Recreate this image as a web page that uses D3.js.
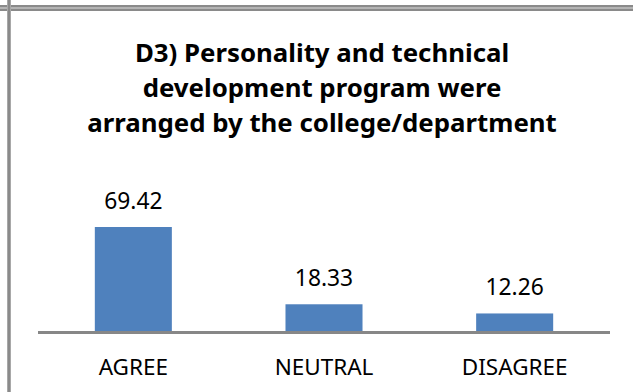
<!DOCTYPE html>
<html>
<head>
<meta charset="utf-8">
<script src="https://cdn.jsdelivr.net/npm/d3@7"></script>
<style>
  html, body { margin: 0; padding: 0; background: #fff; overflow: hidden; }
  svg { display: block; }
</style>
</head>
<body>
<svg id="chart" width="633" height="392"></svg>
<script>
const titleLines = ["D3) Personality and technical", "development program were", "arranged by the college/department"];
const categories = ["AGREE", "NEUTRAL", "DISAGREE"];
const values = [69.42, 18.33, 12.26];
const valueLabels = ["69.42", "18.33", "12.26"];

const svg = d3.select("#chart");
const W = 633, H = 392;
const baseY = 332;

// frame pieces
svg.append("rect").attr("x", 0).attr("y", 5).attr("width", W).attr("height", 6).attr("fill", "#b4b4b4");
svg.append("rect").attr("x", 0).attr("y", 5).attr("width", W).attr("height", 2).attr("fill", "#8a8a8a");
svg.append("rect").attr("x", 0).attr("y", 9).attr("width", W).attr("height", 2).attr("fill", "#8a8a8a");
svg.append("rect").attr("x", 7).attr("y", 0).attr("width", 4).attr("height", H).attr("fill", "#a8a8a8");
svg.append("rect").attr("x", 8).attr("y", 0).attr("width", 2).attr("height", H).attr("fill", "#8a8a8a");

const x = d3.scaleBand().domain(categories).range([38, 610]).paddingInner(0.596).paddingOuter(0.298);
const y = d3.scaleLinear().domain([0, 80]).range([baseY, baseY - 80 * 1.5125]);

const font = "'Noto Sans', 'Open Sans', sans-serif";

const title = svg.append("text").attr("text-anchor", "middle").attr("font-family", font)
  .attr("font-weight", "bold").attr("font-size", 25.8).attr("fill", "#000");
titleLines.forEach((t, i) => {
  title.append("tspan").attr("x", 322).attr("y", 62 + i * 35).text(t);
});

svg.selectAll("rect.bar").data(values).join("rect").attr("class", "bar")
  .attr("x", (d, i) => x(categories[i]))
  .attr("width", x.bandwidth())
  .attr("y", d => y(d))
  .attr("height", d => baseY - y(d))
  .attr("fill", "#4f81bd");

svg.append("line").attr("x1", 38).attr("x2", 610).attr("y1", baseY + 0.5).attr("y2", baseY + 0.5)
  .attr("stroke", "#878787").attr("stroke-width", 3);

svg.selectAll("text.val").data(values).join("text").attr("class", "val")
  .attr("x", (d, i) => x(categories[i]) + x.bandwidth() / 2)
  .attr("y", d => y(d) - 18.5)
  .attr("text-anchor", "middle").attr("font-family", font).attr("font-size", 22.8).attr("fill", "#000")
  .text((d, i) => valueLabels[i]);

svg.selectAll("text.cat").data(categories).join("text").attr("class", "cat")
  .attr("x", d => x(d) + x.bandwidth() / 2)
  .attr("y", 375)
  .attr("text-anchor", "middle").attr("font-family", font).attr("font-size", 22.5).attr("fill", "#000")
  .text(d => d);
</script>
</body>
</html>
